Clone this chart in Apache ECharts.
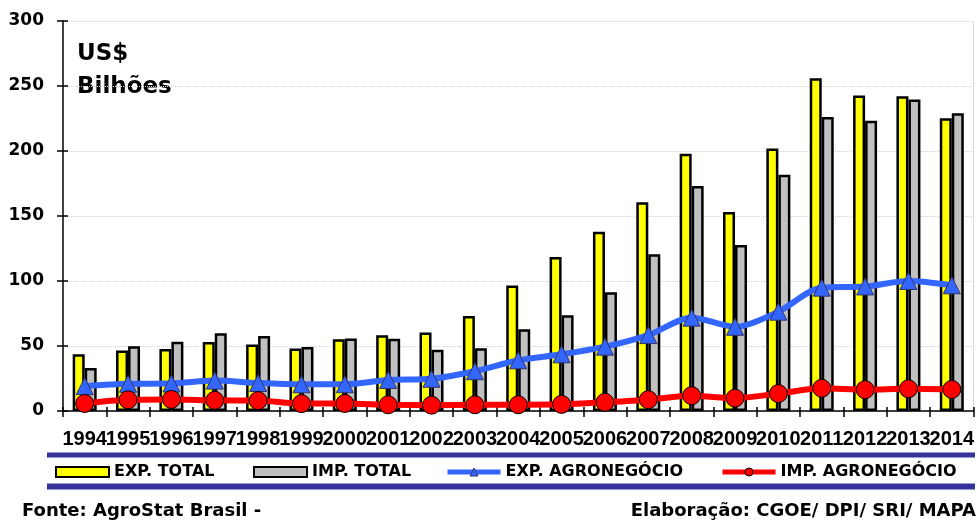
<!DOCTYPE html>
<html><head><meta charset="utf-8">
<script src="https://cdn.jsdelivr.net/npm/echarts@6/dist/echarts.min.js"></script>
<style>html,body{margin:0;padding:0;background:#fff}#c{width:977px;height:521px}</style>
</head><body><div id="c"></div>
<script>
const years = ['1994','1995','1996','1997','1998','1999','2000','2001','2002','2003','2004','2005','2006','2007','2008','2009','2010','2011','2012','2013','2014'];
const expTotal = [43.6, 46.5, 47.7, 53.0, 51.1, 48.0, 55.1, 58.2, 60.4, 73.1, 96.5, 118.5, 137.8, 160.6, 197.9, 153.0, 201.9, 256.0, 242.6, 242.2, 225.1];
const impTotal = [33.1, 49.9, 53.3, 59.8, 57.7, 49.3, 55.8, 55.6, 47.2, 48.3, 62.8, 73.6, 91.4, 120.6, 173.0, 127.7, 181.8, 226.2, 223.2, 239.7, 229.1];
const expAgro = [19.1, 20.9, 21.1, 23.4, 21.5, 20.5, 20.6, 23.9, 24.8, 30.6, 39.0, 43.6, 49.5, 58.4, 71.8, 64.8, 76.4, 94.9, 95.8, 100.0, 96.7];
const impAgro = [5.8, 8.6, 8.9, 8.2, 8.0, 5.7, 5.8, 4.8, 4.5, 4.8, 4.8, 5.1, 6.7, 8.7, 11.8, 9.9, 13.4, 17.5, 16.4, 17.1, 16.6];
const seriesNames = ['EXP. TOTAL', 'IMP. TOTAL', 'EXP. AGRONEGÓCIO', 'IMP. AGRONEGÓCIO'];
const yMin = 0, yMax = 300, yStep = 50;

const chart = echarts.init(document.getElementById('c'), null, {renderer: 'canvas'});
const boldDV = {fontFamily: 'DejaVu Sans', fontWeight: 'bold', color: '#000'};
const legendBase = {
  top: 464, padding: 0, itemWidth: 53, itemHeight: 10, itemGap: 0,
  textStyle: Object.assign({fontSize: 16, padding: 0}, boldDV),
  selectedMode: false
};
const legendLefts = [55, 253, 445, 720];
const legendExtra = [
  {icon: 'rect'},
  {icon: 'rect'},
  {lineStyle: {width: 5}, itemStyle: {borderWidth: 1}},
  {lineStyle: {width: 5}, itemStyle: {borderWidth: 1}}
];

chart.setOption({
  animation: false,
  backgroundColor: '#fff',
  grid: {left: 63, right: 2, top: 21, bottom: 110, containLabel: false},
  legend: seriesNames.map((n, i) => Object.assign({}, legendBase, {data: [n], left: legendLefts[i]}, legendExtra[i])),
  xAxis: [{
    type: 'category', data: years, boundaryGap: true,
    axisLine: {show: true, lineStyle: {color: '#000', width: 1.5}},
    axisTick: {show: true, interval: 0, length: 6, lineStyle: {color: '#000', width: 1.5}},
    axisLabel: {interval: 0, hideOverlap: false, margin: 18, fontFamily: 'Liberation Sans', fontWeight: 'bold', fontSize: 20, color: '#000'},
    splitLine: {show: false}
  }, {
    type: 'category', data: years, boundaryGap: true, position: 'bottom',
    axisLine: {show: false},
    axisTick: {show: true, inside: true, interval: 0, length: 4, lineStyle: {color: '#000', width: 1.5}},
    axisLabel: {show: false}, splitLine: {show: false}
  }],
  yAxis: [{
    type: 'value', min: yMin, max: yMax, interval: yStep,
    axisLine: {show: true, lineStyle: {color: '#000', width: 1.5}},
    axisTick: {show: true, length: 6, lineStyle: {color: '#000', width: 1.5}},
    axisLabel: Object.assign({margin: 19, fontSize: 17}, boldDV),
    splitLine: {show: true, lineStyle: {color: '#d2d2d2', width: 1, type: 'dotted'}}
  }, {
    type: 'value', min: yMin, max: yMax, interval: yStep, position: 'left',
    axisLine: {show: false},
    axisTick: {show: true, inside: true, length: 5, lineStyle: {color: '#000', width: 1.5}},
    axisLabel: {show: false}, splitLine: {show: false}
  }, {
    type: 'value', min: yMin, max: yMax, interval: yStep, position: 'right',
    axisLine: {show: true, lineStyle: {color: '#d2d2d2', width: 1, type: 'dotted'}},
    axisTick: {show: false}, axisLabel: {show: false}, splitLine: {show: false}
  }],
  series: [{
    name: seriesNames[0], type: 'bar', data: expTotal, barWidth: 12, barGap: '0%',
    itemStyle: {color: '#ffff00', borderColor: '#000', borderWidth: 2.5}
  }, {
    name: seriesNames[1], type: 'bar', data: impTotal, barWidth: 12, barGap: '0%',
    itemStyle: {color: '#c0c0c0', borderColor: '#000', borderWidth: 2.5}
  }, {
    name: seriesNames[2], type: 'line', data: expAgro, smooth: 0.3, z: 5,
    symbol: 'triangle', symbolSize: 17,
    lineStyle: {color: '#3366ff', width: 6},
    itemStyle: {color: '#3366ff', borderColor: '#333366', borderWidth: 1}
  }, {
    name: seriesNames[3], type: 'line', data: impAgro, smooth: 0.3, z: 6,
    symbol: 'circle', symbolSize: 18,
    lineStyle: {color: '#ff0000', width: 6},
    itemStyle: {color: '#ff0000', borderColor: '#000', borderWidth: 1}
  }],
  graphic: [
    {type: 'rect', shape: {x: 47, y: 452.5, width: 928, height: 5}, style: {fill: '#333399'}, silent: true},
    {type: 'rect', shape: {x: 47, y: 483.5, width: 928, height: 6}, style: {fill: '#333399'}, silent: true},
    {type: 'text', x: 77, y: 54, style: {text: 'US$', font: 'bold 23px "DejaVu Sans"', fill: '#000', verticalAlign: 'middle'}},
    {type: 'text', x: 77, y: 87, style: {text: 'Bilhões', font: 'bold 23px "DejaVu Sans"', fill: '#000', verticalAlign: 'middle'}},
    {type: 'text', x: 22, y: 511, style: {text: 'Fonte: AgroStat Brasil -', font: 'bold 18px "DejaVu Sans"', fill: '#000', verticalAlign: 'middle'}},
    {type: 'text', x: 976, y: 511, style: {text: 'Elaboração: CGOE/ DPI/ SRI/ MAPA', font: 'bold 18px "DejaVu Sans"', fill: '#000', align: 'right', verticalAlign: 'middle'}}
  ]
});
</script>
</body></html>
